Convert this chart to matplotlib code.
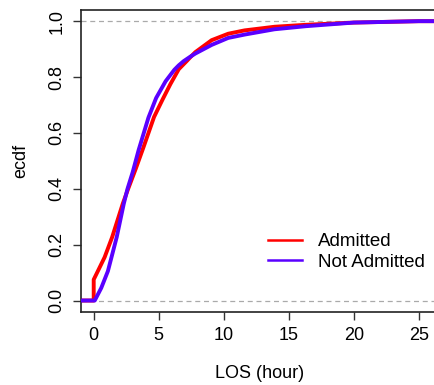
import matplotlib
matplotlib.use("Agg")
import matplotlib.pyplot as plt
from matplotlib.lines import Line2D

plt.rcParams['font.family'] = ['Liberation Sans', 'DejaVu Sans']

# Data (ECDF of length of stay, hours)
los_admitted = [-5, 0, 0, 0.4, 0.84, 1.42, 2.23, 2.65, 3.22, 3.8, 4.64, 5.3, 5.9, 6.54, 7.17,
                7.43, 7.81, 9.07, 10.34, 11.6, 13.9, 16.3, 20.0, 25.0, 30]
ecdf_admitted = [0, 0, 0.075, 0.113, 0.155, 0.227, 0.346, 0.40, 0.47, 0.545, 0.657, 0.72, 0.775, 0.828, 0.858,
                 0.871, 0.889, 0.932, 0.955, 0.967, 0.98, 0.987, 0.995, 1.0, 1.0]

los_not_admitted = [-5, 0.08, 0.58, 1.09, 1.77, 2.31, 2.6, 3.0, 3.45, 4.21, 4.8, 5.53, 6.2, 6.54, 6.92,
                    7.43, 7.81, 9.07, 10.34, 11.6, 13.9, 16.3, 20.0, 25.0, 30]
ecdf_not_admitted = [0, 0, 0.045, 0.105, 0.227, 0.346, 0.40, 0.46, 0.538, 0.655, 0.725, 0.785, 0.826, 0.842, 0.857,
                     0.873, 0.884, 0.915, 0.94, 0.952, 0.971, 0.982, 0.995, 1.0, 1.0]

series_names = ["Admitted", "Not Admitted"]
series_colors = ["#FF0000", "#5A00FF"]
x_ticks = [0, 5, 10, 15, 20, 25]
y_ticks = [0.0, 0.2, 0.4, 0.6, 0.8, 1.0]

fig = plt.figure(figsize=(4.34, 3.85), dpi=100)
ax = fig.add_axes([80.7 / 434, (385 - 311.7) / 385, 1.0 - 80.7 / 434 + 0.01, (311.7 - 10) / 385])

ax.axhline(0, color="#AAAAAA", lw=0.9, ls=(0, (4, 3)), zorder=1)
ax.axhline(1, color="#AAAAAA", lw=0.9, ls=(0, (4, 3)), zorder=1)

ax.plot(los_admitted, ecdf_admitted, color=series_colors[0], lw=2.8, zorder=2)
ax.plot(los_not_admitted, ecdf_not_admitted, color=series_colors[1], lw=2.8, zorder=3)

ax.set_xlim(-1.0, 26.5)
ax.set_ylim(-0.04, 1.04)
ax.set_xticks(x_ticks)
ax.set_yticks(y_ticks)
ax.set_xticklabels([str(t) for t in x_ticks], fontsize=13)
ax.set_yticklabels([f"{t:.1f}" for t in y_ticks], fontsize=13, rotation=90, va="center")
ax.tick_params(direction="out", length=6, width=1.0, colors="#333333", labelcolor="black", pad=5)
for s in ax.spines.values():
    s.set_linewidth(1.2)
    s.set_color("#222222")

ax.set_xlabel("LOS (hour)", fontsize=13, labelpad=15)
ax.set_ylabel("ecdf", fontsize=13, labelpad=14)

handles = [Line2D([], [], color=c, lw=1.8) for c in series_colors]
fig.legend(handles, series_names, loc="upper left", bbox_to_anchor=(268 / 434, (385 - 233) / 385),
           frameon=False, fontsize=13.5, handlelength=1.8, handletextpad=0.85,
           labelspacing=0.2, borderpad=0.0, borderaxespad=0.0)

fig.savefig("out.png", dpi=100)
